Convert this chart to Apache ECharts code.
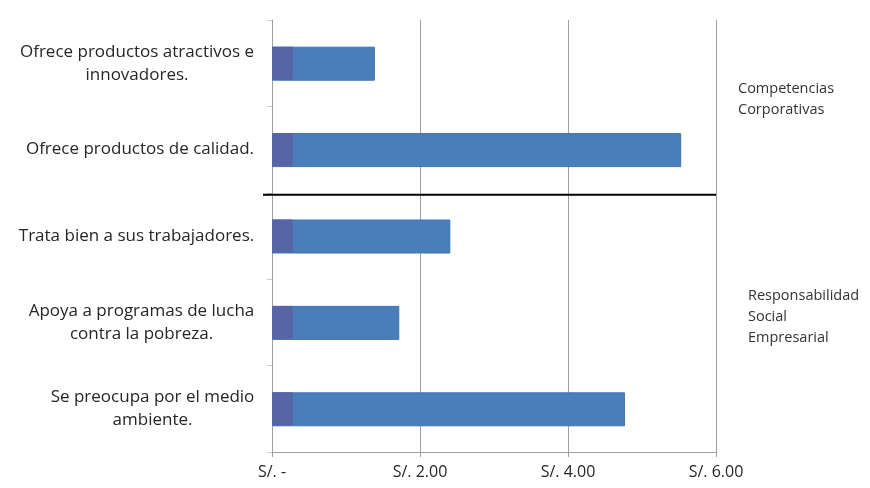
<!DOCTYPE html>
<html><head><meta charset="utf-8">
<script src="https://cdn.jsdelivr.net/npm/echarts@6/dist/echarts.min.js"></script>
<style>html,body{margin:0;padding:0;background:#fff}#c{width:870px;height:488px}</style>
</head><body><div id="c"></div>
<script>
var categories = [
  "Ofrece productos atractivos e\ninnovadores.",
  "Ofrece productos de calidad.",
  "Trata bien a sus trabajadores.",
  "Apoya a programas de lucha\ncontra la pobreza.",
  "Se preocupa por el medio\nambiente."
];
var values = [1.39, 5.53, 2.41, 1.72, 4.77];
var baseValues = [0.28, 0.28, 0.28, 0.28, 0.28];
var tickLabels = ["S/. -", "S/. 2.00", "S/. 4.00", "S/. 6.00"];
var groupLabels = ["Competencias\nCorporativas", "Responsabilidad\nSocial\nEmpresarial"];

var FONT = '"Open Sans", "Noto Sans", sans-serif';
var LFS = 17;
var cv = document.createElement('canvas').getContext('2d');
cv.font = LFS + 'px ' + FONT;
var rich = {};
categories.forEach(function(c, i){
  var w = 0;
  c.split('\n').forEach(function(l){ w = Math.max(w, cv.measureText(l).width); });
  rich['r' + i] = {width: Math.ceil(w) + 1, align: 'center', fontSize: LFS, fontFamily: FONT, color: '#262626', lineHeight: 23};
});

var chart = echarts.init(document.getElementById('c'));
chart.setOption({
  backgroundColor: '#fff',
  animation: false,
  grid: {left: 272, right: 154, top: 20, bottom: 36, containLabel: false},
  xAxis: {
    type: 'value', min: 0, max: 6, interval: 2,
    axisLine: {show: true, lineStyle: {color: '#a0a0a0'}},
    axisTick: {show: true, length: 5, lineStyle: {color: '#a0a0a0'}},
    splitLine: {show: true, lineStyle: {color: '#a0a0a0', width: 1}},
    axisLabel: {
      margin: 12, fontSize: 16, fontFamily: FONT, color: '#262626',
      formatter: function(v){ return tickLabels[Math.round(v / 2)]; }
    }
  },
  yAxis: {
    type: 'category', data: categories, inverse: true,
    axisLine: {show: true, lineStyle: {color: '#a0a0a0'}},
    axisTick: {show: true, length: 5, lineStyle: {color: '#c8c8c8'}},
    axisLabel: {
      margin: 17,
      formatter: function(v){
        var idx = categories.indexOf(v);
        return v.split('\n').map(function(l){ return '{r' + idx + '|' + l + '}'; }).join('\n');
      },
      rich: rich
    }
  },
  series: [
    {type: 'bar', data: values, barWidth: 34, barGap: '-100%',
     itemStyle: {color: '#4a7ebb', borderColor: '#4272b0', borderWidth: 1}},
    {type: 'bar', data: baseValues, barWidth: 33, barGap: '-100%',
     itemStyle: {color: '#5765a6'}}
  ]
});

var yb = (chart.convertToPixel({yAxisIndex: 0}, 1) + chart.convertToPixel({yAxisIndex: 0}, 2)) / 2;
var x6 = chart.convertToPixel({xAxisIndex: 0}, 6);
chart.setOption({
  graphic: [
    {type: 'line', shape: {x1: 263, y1: yb + 2, x2: x6, y2: yb + 2}, style: {stroke: '#000', lineWidth: 2}, z: 10},
    {type: 'text', left: 738, top: 78, style: {text: groupLabels[0], fontSize: 14.5, fontFamily: FONT, fill: '#333', lineHeight: 21}},
    {type: 'text', left: 748, top: 285, style: {text: groupLabels[1], fontSize: 14.5, fontFamily: FONT, fill: '#333', lineHeight: 21}}
  ]
});
</script>
</body></html>
